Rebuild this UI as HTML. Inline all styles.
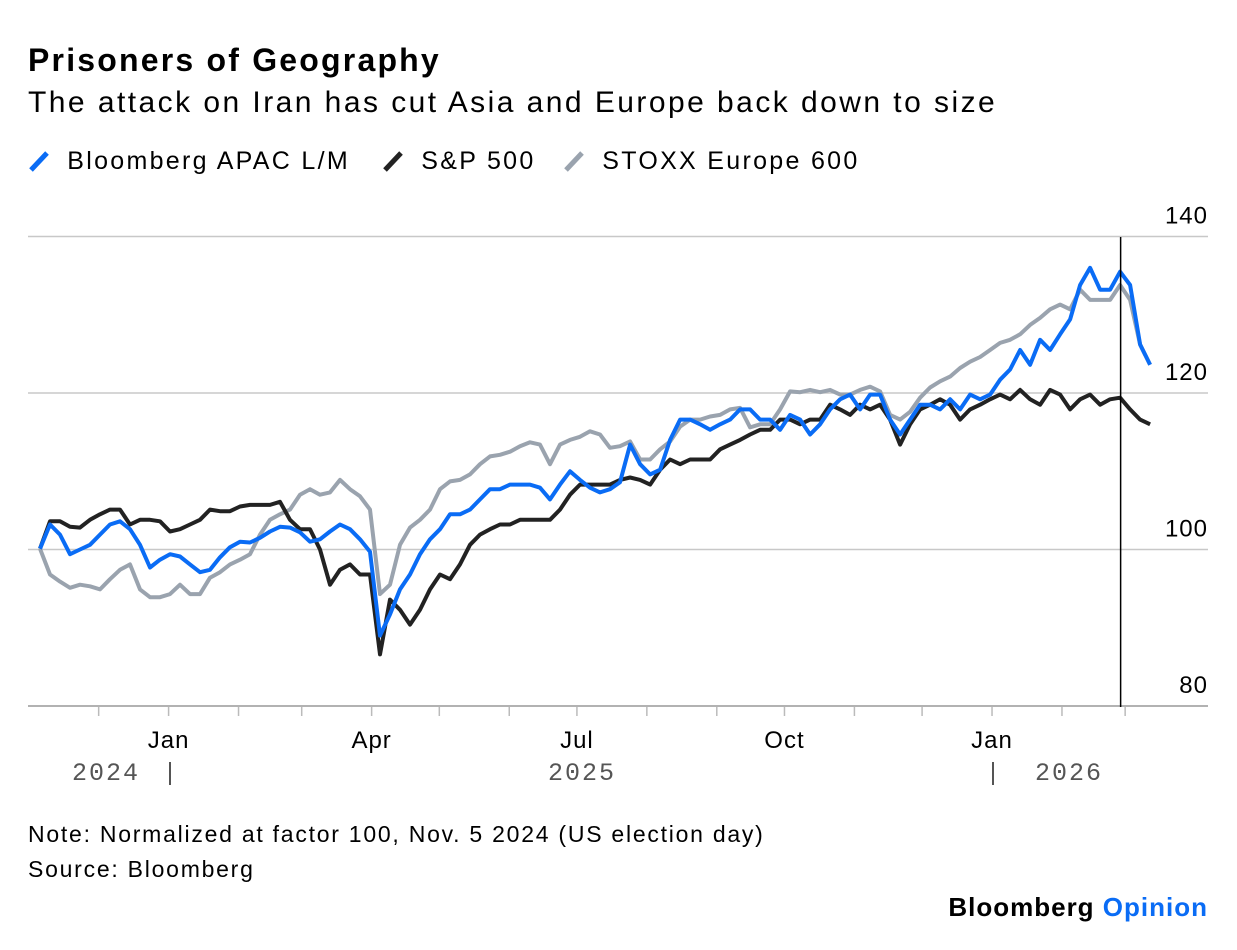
<!DOCTYPE html>
<html><head><meta charset="utf-8"><style>
body{margin:0;background:#fff;width:1237px;height:950px;overflow:hidden;font-family:"Liberation Sans",sans-serif;color:#000}
.t{position:absolute;white-space:nowrap}
</style></head><body>
<div class="t" style="left:28px;top:42px;font-size:32px;font-weight:bold;letter-spacing:2.2px">Prisoners of Geography</div>
<div class="t" style="left:28px;top:86px;font-size:30px;letter-spacing:2.45px">The attack on Iran has cut Asia and Europe back down to size</div>
<div style="position:absolute;left:28px;top:147px;font-size:25px;letter-spacing:2.3px">
 <span class="t" style="left:0"><svg width="30" height="24" style="vertical-align:-3px"><line x1="3" y1="22" x2="19" y2="5" stroke="#0a6cf5" stroke-width="5"/></svg> Bloomberg APAC L/M</span>
 <span class="t" style="left:354px"><svg width="30" height="24" style="vertical-align:-3px"><line x1="3" y1="22" x2="19" y2="5" stroke="#222" stroke-width="5"/></svg> S&amp;P 500</span>
 <span class="t" style="left:535px"><svg width="30" height="24" style="vertical-align:-3px"><line x1="3" y1="22" x2="19" y2="5" stroke="#9aa3ae" stroke-width="5"/></svg> STOXX Europe 600</span>
</div>
<svg id="chart" width="1237" height="950" style="position:absolute;left:0;top:0"></svg>
<div class="t" style="left:28px;top:821px;font-size:23px;letter-spacing:1.75px">Note: Normalized at factor 100, Nov. 5 2024 (US election day)</div>
<div class="t" style="left:28px;top:856px;font-size:23px;letter-spacing:1.75px">Source: Bloomberg</div>
<div class="t" style="right:29px;top:892px;font-size:26px;font-weight:bold;letter-spacing:1px">Bloomberg <span style="color:#0a6cf5">Opinion</span></div>
<script>
const startDate = "2024-11-05";
const sampleStepDays = 4.433;
const apac = [100.1,103.2,101.9,99.4,100,100.6,101.9,103.2,103.6,102.6,
100.6,97.7,98.7,99.4,99.1,98.1,97.1,97.4,99.0,100.3,
101.0,100.9,101.5,102.3,102.9,102.8,102.2,101.0,101.3,102.3,
103.2,102.6,101.3,99.7,89.0,91.7,94.9,96.8,99.4,101.3,
102.6,104.5,104.5,105.1,106.4,107.7,107.7,108.3,108.3,108.3,
107.9,106.4,108.3,110.0,108.9,107.9,107.3,107.7,108.6,113.4,
110.9,109.6,110.2,114.0,116.6,116.6,116.0,115.3,116.0,116.6,
117.9,117.9,116.6,116.6,115.3,117.2,116.6,114.7,116.0,117.9,
119.2,119.8,117.9,119.8,119.8,116.6,114.7,116.6,118.5,118.5,
117.9,119.2,117.9,119.8,119.2,119.8,121.7,123.0,125.5,123.6,
126.8,125.5,127.5,129.4,133.8,136.0,133.2,133.2,135.5,133.8,
126.2,123.6];
const sp500 = [100.1,103.6,103.6,102.9,102.8,103.8,104.5,105.1,105.1,103.2,
103.8,103.8,103.6,102.3,102.6,103.2,103.8,105.1,104.9,104.9,
105.5,105.7,105.7,105.7,106.1,103.8,102.6,102.6,100.0,95.5,
97.4,98.1,96.8,96.8,86.6,93.6,92.3,90.4,92.3,94.9,
96.8,96.2,98.1,100.6,101.9,102.6,103.2,103.2,103.8,103.8,
103.8,103.8,105.1,107.0,108.3,108.3,108.3,108.3,108.9,109.2,
108.9,108.3,110.2,111.5,110.9,111.5,111.5,111.5,112.8,113.4,
114.0,114.7,115.3,115.3,116.6,116.6,116.0,116.6,116.6,118.5,
117.9,117.2,118.5,117.9,118.5,116.6,113.4,116.0,117.9,118.5,
119.2,118.5,116.6,117.9,118.5,119.2,119.8,119.2,120.4,119.2,
118.5,120.4,119.8,117.9,119.2,119.8,118.5,119.2,119.4,117.9,
116.6,116.0];
const stoxx = [100.1,96.8,95.9,95.1,95.5,95.3,94.9,96.2,97.4,98.1,
94.9,93.9,93.9,94.3,95.5,94.3,94.3,96.4,97.1,98.1,
98.7,99.4,101.9,103.8,104.5,105.1,107.0,107.7,107.0,107.3,
108.9,107.7,106.8,105.1,94.3,95.5,100.6,102.8,103.8,105.1,
107.7,108.7,108.9,109.6,110.9,111.9,112.1,112.5,113.2,113.7,
113.4,110.9,113.4,114.0,114.4,115.1,114.7,113.0,113.2,113.8,
111.5,111.5,112.8,113.8,115.7,116.6,116.6,117.0,117.2,117.9,
118.1,115.6,116.0,116.0,117.9,120.2,120.1,120.4,120.1,120.4,
119.8,119.8,120.4,120.8,120.2,117.2,116.6,117.6,119.4,120.7,
121.5,122.1,123.2,124.0,124.6,125.5,126.4,126.8,127.5,128.7,
129.6,130.7,131.3,130.7,133.2,131.9,131.9,131.9,133.8,131.9,
126.2,123.6];
const yTicks = [80,100,120,140];
const monthTicks = ["2024-12-01","2025-01-01","2025-02-01","2025-03-01","2025-04-01","2025-05-01","2025-06-01","2025-07-01","2025-08-01","2025-09-01","2025-10-01","2025-11-01","2025-12-01","2026-01-01","2026-02-01","2026-03-01"];
const monthLabels = [["2025-01-01","Jan"],["2025-04-01","Apr"],["2025-07-01","Jul"],["2025-10-01","Oct"],["2026-01-01","Jan"]];
const eventDate = "2026-02-27";

const svg = document.getElementById('chart');
const NS = "http://www.w3.org/2000/svg";
const d0 = Date.parse(startDate);
const dayOf = s => (Date.parse(s) - d0) / 86400000;
const xScale = d => 40 + d * 2.256;
const yScale = v => 549.5 - (v - 100) * 7.825;
function mk(tag, attrs){const e=document.createElementNS(NS,tag);for(const k in attrs)e.setAttribute(k,attrs[k]);svg.appendChild(e);return e;}

yTicks.forEach(v=>{
  const y=yScale(v);
  const g=mk('line',{x1:28,x2:1208,y1:y,y2:y,stroke:v===80?'#999':'#c8c8c8','stroke-width':1.5});
  
  
  const t=mk('text',{x:1208,y:y-13,'text-anchor':'end','font-size':24,'font-family':'Liberation Sans','letter-spacing':1});
  t.textContent=v;
  
  
});
monthTicks.forEach(m=>{
  const x=xScale(dayOf(m));
  const l=mk('line',{x1:x,x2:x,y1:707,y2:716,stroke:'#bbb','stroke-width':1.5});
  
  
});
monthLabels.forEach(([m,lab])=>{
  const t=mk('text',{x:xScale(dayOf(m)),y:748,'text-anchor':'middle','font-size':24,'font-family':'Liberation Sans','letter-spacing':1});
  t.textContent=lab;
  
  
});
[["2024",106],["|",171],["2025",582],["|",994],["2026",1069]].forEach(([s,x])=>{
  const t=mk('text',{x:x,y:780,'text-anchor':'middle','font-size':25,fill:'#555','font-family':'Liberation Mono','letter-spacing':2});
  t.textContent=s;
  
  
});
function series(vals,color,name){
  const pts=vals.map((v,i)=>xScale(i*sampleStepDays).toFixed(1)+','+yScale(v).toFixed(1)).join(' ');
  const p=mk('polyline',{points:pts,fill:'none',stroke:color,'stroke-width':4,'stroke-linejoin':'round'});
  
  
}
series(stoxx,'#9aa3ae','line-stoxx-europe-600');
series(sp500,'#222','line-sp500');
series(apac,'#0a6cf5','line-bloomberg-apac');
const ex=xScale(dayOf(eventDate));
const ev=mk('line',{x1:ex,x2:ex,y1:237,y2:707,stroke:'#000','stroke-width':1.5});


</script>
</body></html>
